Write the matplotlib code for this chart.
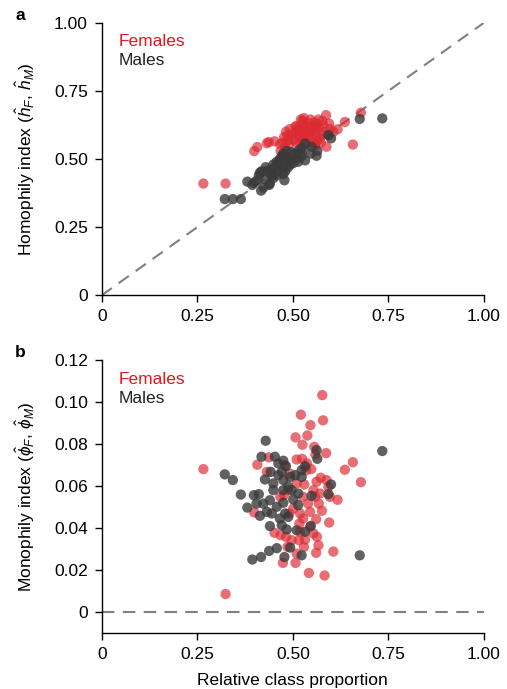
import matplotlib
matplotlib.use("Agg")
import matplotlib.pyplot as plt

plt.rcParams['font.family'] = ['Liberation Sans', 'DejaVu Sans']
plt.rcParams['mathtext.fontset'] = 'custom'
plt.rcParams['mathtext.rm'] = 'Liberation Sans'
plt.rcParams['mathtext.it'] = 'Liberation Sans:italic'

# females: relative class proportion, homophily, monophily
fem_x = [0.266, 0.324, 0.577, 0.521, 0.579, 0.546, 0.507, 0.538, 0.525, 0.556,
         0.587, 0.657, 0.636, 0.678, 0.407, 0.437, 0.510, 0.524, 0.537, 0.548,
         0.559, 0.573, 0.588, 0.617, 0.595, 0.606, 0.542, 0.583, 0.474, 0.507,
         0.510, 0.561, 0.567, 0.554, 0.561, 0.576, 0.568, 0.530, 0.554, 0.571,
         0.527, 0.540, 0.519, 0.527, 0.517, 0.532, 0.516, 0.529, 0.482, 0.486,
         0.452, 0.468, 0.399, 0.488, 0.477, 0.501, 0.491, 0.545, 0.558, 0.597,
         0.432, 0.479, 0.492, 0.535, 0.562, 0.593, 0.510, 0.467, 0.519, 0.545,
         0.497, 0.563]
fem_h = [0.410, 0.410, 0.640, 0.645, 0.625, 0.645, 0.620, 0.600, 0.640, 0.635,
         0.661, 0.553, 0.636, 0.670, 0.544, 0.562, 0.590, 0.610, 0.620, 0.580,
         0.600, 0.560, 0.545, 0.609, 0.630, 0.600, 0.630, 0.600, 0.560, 0.600,
         0.560, 0.620, 0.645, 0.560, 0.585, 0.590, 0.615, 0.590, 0.610, 0.575,
         0.570, 0.575, 0.600, 0.625, 0.580, 0.555, 0.615, 0.650, 0.600, 0.585,
         0.565, 0.530, 0.529, 0.570, 0.580, 0.570, 0.555, 0.600, 0.550, 0.610,
         0.558, 0.545, 0.610, 0.585, 0.630, 0.590, 0.620, 0.555, 0.560, 0.615,
         0.590, 0.565]
fem_phi = [0.0681, 0.0087, 0.1033, 0.0940, 0.0913, 0.0890, 0.0832, 0.0841, 0.0797, 0.0787,
           0.0757, 0.0714, 0.0678, 0.0619, 0.0702, 0.0737, 0.0727, 0.0730, 0.0708, 0.0681,
           0.0751, 0.0640, 0.0629, 0.0535, 0.0427, 0.0289, 0.0187, 0.0175, 0.0235, 0.0235,
           0.0279, 0.0283, 0.0319, 0.0375, 0.0443, 0.0483, 0.0517, 0.0608, 0.0581, 0.0565,
           0.0549, 0.0517, 0.0470, 0.0446, 0.0422, 0.0346, 0.0343, 0.0311, 0.0359, 0.0311,
           0.0378, 0.0367, 0.0475, 0.0581, 0.0557, 0.0494, 0.0470, 0.0478, 0.0549, 0.0549,
           0.0668, 0.0700, 0.0660, 0.0676, 0.0621, 0.0597, 0.0613, 0.0549, 0.0383, 0.0406,
           0.0343, 0.0359]

# males
male_x = [0.734, 0.675, 0.429, 0.322, 0.343, 0.364, 0.381, 0.398, 0.411, 0.394,
          0.417, 0.438, 0.458, 0.478, 0.493, 0.523, 0.418, 0.453, 0.475, 0.462,
          0.482, 0.442, 0.427, 0.462, 0.475, 0.493, 0.506, 0.523, 0.532, 0.562,
          0.564, 0.600, 0.593, 0.549, 0.514, 0.501, 0.475, 0.449, 0.440, 0.423,
          0.414, 0.432, 0.458, 0.475, 0.480, 0.488, 0.440, 0.471, 0.484, 0.510,
          0.532, 0.547, 0.514, 0.449, 0.488, 0.405, 0.445, 0.466, 0.497, 0.523,
          0.471]
male_h = [0.649, 0.647, 0.470, 0.353, 0.353, 0.353, 0.417, 0.413, 0.440, 0.405,
          0.384, 0.405, 0.440, 0.422, 0.480, 0.540, 0.455, 0.470, 0.445, 0.485,
          0.500, 0.445, 0.425, 0.455, 0.510, 0.495, 0.520, 0.510, 0.495, 0.512,
          0.530, 0.576, 0.588, 0.545, 0.530, 0.485, 0.470, 0.430, 0.460, 0.395,
          0.450, 0.455, 0.490, 0.520, 0.455, 0.505, 0.410, 0.475, 0.530, 0.500,
          0.557, 0.520, 0.490, 0.480, 0.470, 0.420, 0.440, 0.500, 0.525, 0.525,
          0.510]
male_phi = [0.0767, 0.0271, 0.0816, 0.0656, 0.0629, 0.0560, 0.0498, 0.0557, 0.0562, 0.0251,
            0.0263, 0.0292, 0.0305, 0.0263, 0.0308, 0.0271, 0.0740, 0.0740, 0.0721, 0.0708,
            0.0695, 0.0668, 0.0632, 0.0652, 0.0629, 0.0644, 0.0652, 0.0676, 0.0695, 0.0771,
            0.0730, 0.0608, 0.0562, 0.0554, 0.0565, 0.0537, 0.0581, 0.0581, 0.0533, 0.0517,
            0.0459, 0.0478, 0.0502, 0.0521, 0.0470, 0.0454, 0.0410, 0.0414, 0.0394, 0.0390,
            0.0383, 0.0411, 0.0510, 0.0613, 0.0597, 0.0517, 0.0470, 0.0446, 0.0581, 0.0644,
            0.0668]

xticks = [0, 0.25, 0.5, 0.75, 1.0]
xlabels = ['0', '0.25', '0.50', '0.75', '1.00']
yticks_a = [0, 0.25, 0.5, 0.75, 1.0]
ylabels_a = ['0', '0.25', '0.50', '0.75', '1.00']
yticks_b = [0, 0.02, 0.04, 0.06, 0.08, 0.10, 0.12]
ylabels_b = ['0', '0.02', '0.04', '0.06', '0.08', '0.10', '0.12']

red = '#dc2a32'
grey = '#3a3a3a'
fs = 12.5

fig = plt.figure(figsize=(5.07, 6.89), dpi=100)
ax1 = fig.add_axes([0.2006, 0.5714, 0.754, 0.3956])
ax2 = fig.add_axes([0.2006, 0.0808, 0.754, 0.3967])

def style(ax):
    for s in ['top', 'right']:
        ax.spines[s].set_visible(False)
    for s in ['left', 'bottom']:
        ax.spines[s].set_linewidth(1.0)
    ax.tick_params(direction='out', length=5, width=1.0, labelsize=fs, pad=5)
    ax.set_xlim(0, 1)
    ax.set_xticks(xticks)
    ax.set_xticklabels(xlabels)

# panel a
ax1.plot([0, 1], [0, 1], color='#808080', lw=1.5, dashes=(6, 4), zorder=1)
ax1.scatter(fem_x, fem_h, s=55, color=red, alpha=0.68, edgecolors='none', zorder=2)
ax1.scatter(male_x, male_h, s=55, color=grey, alpha=0.8, edgecolors='none', zorder=3)
style(ax1)
ax1.set_ylim(0, 1)
ax1.set_yticks(yticks_a)
ax1.set_yticklabels(ylabels_a)
ax1.set_ylabel(r'Homophily index ($\hat{h}_F$, $\hat{h}_M$)', fontsize=fs, labelpad=12)
ax1.text(0.045, 0.93, 'Females', color='#e8141c', fontsize=fs, transform=ax1.transAxes, va='center')
ax1.text(0.045, 0.86, 'Males', color='#222222', fontsize=fs, transform=ax1.transAxes, va='center')

# panel b
ax2.plot([0, 1], [0, 0], color='#808080', lw=1.5, dashes=(6, 4), zorder=1)
ax2.scatter(fem_x, fem_phi, s=55, color=red, alpha=0.68, edgecolors='none', zorder=2)
ax2.scatter(male_x, male_phi, s=55, color=grey, alpha=0.8, edgecolors='none', zorder=3)
style(ax2)
ax2.set_ylim(-0.01, 0.12)
ax2.set_yticks(yticks_b)
ax2.set_yticklabels(ylabels_b)
ax2.set_ylabel(r'Monophily index ($\hat{\phi}_F$, $\hat{\phi}_M$)', fontsize=fs, labelpad=12)
ax2.set_xlabel('Relative class proportion', fontsize=fs, labelpad=8)
ax2.text(0.045, 0.93, 'Females', color='#e8141c', fontsize=fs, transform=ax2.transAxes, va='center')
ax2.text(0.045, 0.86, 'Males', color='#222222', fontsize=fs, transform=ax2.transAxes, va='center')

fig.text(0.03, 0.978, 'a', fontsize=fs, fontweight='bold', va='center')
fig.text(0.03, 0.488, 'b', fontsize=fs, fontweight='bold', va='center')

fig.savefig('out.png', dpi=100)
